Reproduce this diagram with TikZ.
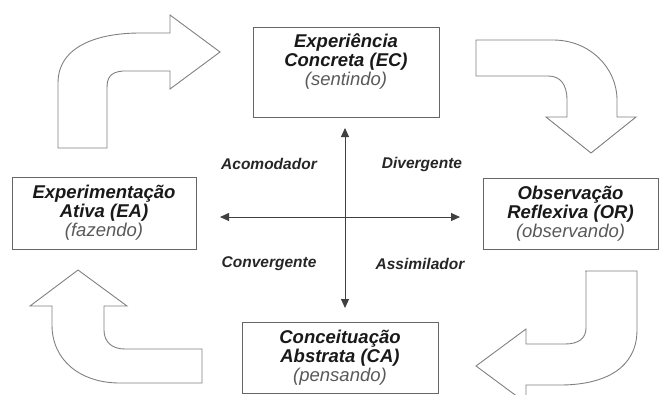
\documentclass[tikz,border=0pt]{standalone}
\usepackage{fontspec}
\setmainfont{Liberation Sans}
\usetikzlibrary{arrows.meta}
\begin{document}
\begin{tikzpicture}[x=1pt,y=-1pt,
  box/.style={draw=black!60,line width=1pt,inner sep=0pt,align=center,
    font=\fontsize{18.5}{19}\selectfont\bfseries\itshape,text=black!90},
  quad/.style={font=\fontsize{15.5}{16}\selectfont\bfseries\itshape,text=black!85},
  bendarrow/.style={draw=black!50,line width=0.9pt},
  axis/.style={draw=black!75,line width=0.9pt,
    {Triangle[length=9pt,width=8pt]}-{Triangle[length=9pt,width=8pt]}}]
\clip (0,0) rectangle (668,394);
\node[box,minimum width=186pt,minimum height=90pt] (ec) at (346,72) {};
\node[box,draw=none] (ectext) at (346,62) {Experiência\\Concreta (EC)\\{\color{black!65}\mdseries (sentindo)}};
\node[box,minimum width=175pt,minimum height=71pt] (or) at (570.5,213.5) {Observação\\Reflexiva (OR)\\{\color{black!65}\mdseries (observando)}};
\node[box,minimum width=184pt,minimum height=72pt] (ea) at (104,213) {Experimentação\\Ativa (EA)\\{\color{black!65}\mdseries (fazendo)}};
\node[box,minimum width=196pt,minimum height=71pt] (ca) at (340,357.5) {Conceituação\\Abstrata (CA)\\{\color{black!65}\mdseries (pensando)}};

\coordinate (up) at (345,128);
\coordinate (down) at (345,308);
\coordinate (left) at (220,217);
\coordinate (right) at (460,217);
\draw[axis] (up) -- (down);
\draw[axis] (left) -- (right);
\node[quad] (acom) at (269,164) {Acomodador};
\node[quad] (dive) at (422,164) {Divergente};
\node[quad] (conv) at (269,264) {Convergente};
\node[quad] (assi) at (420,264) {Assimilador};

\draw[bendarrow] (58,148) -- (58,83) .. controls (58,45) and (100,33) .. (140,33) -- (170,33) -- (170,15)
  -- (220,52) -- (170,89) -- (170,71) -- (123,71) .. controls (110,72) and (107,78) .. (107,88) -- (107,148) -- cycle;
\draw[bendarrow] (476,40) -- (553,40) .. controls (590,40) and (617,68) .. (617,100) -- (617,117) -- (636,117)
  -- (591,153) -- (546,117) -- (567,117) -- (567,100) .. controls (567,84) and (560,76) .. (548,76) -- (476,76) -- cycle;
\draw[bendarrow] (585,271) -- (637,271) -- (637,330) .. controls (637,368) and (605,385) .. (560,385) -- (526,385) -- (526,403)
  -- (476,366) -- (526,329) -- (526,344) -- (565,344) .. controls (579,344) and (586,338) .. (586,328) -- (586,271) -- cycle;
\draw[bendarrow] (78,270) -- (127,306) -- (104,306) -- (104,330) .. controls (104,342) and (112,349) .. (125,349) -- (202,349)
  -- (202,383) -- (120,383) .. controls (80,383) and (52,360) .. (52,325) -- (52,306) -- (30,306) -- cycle;
\end{tikzpicture}
\end{document}
